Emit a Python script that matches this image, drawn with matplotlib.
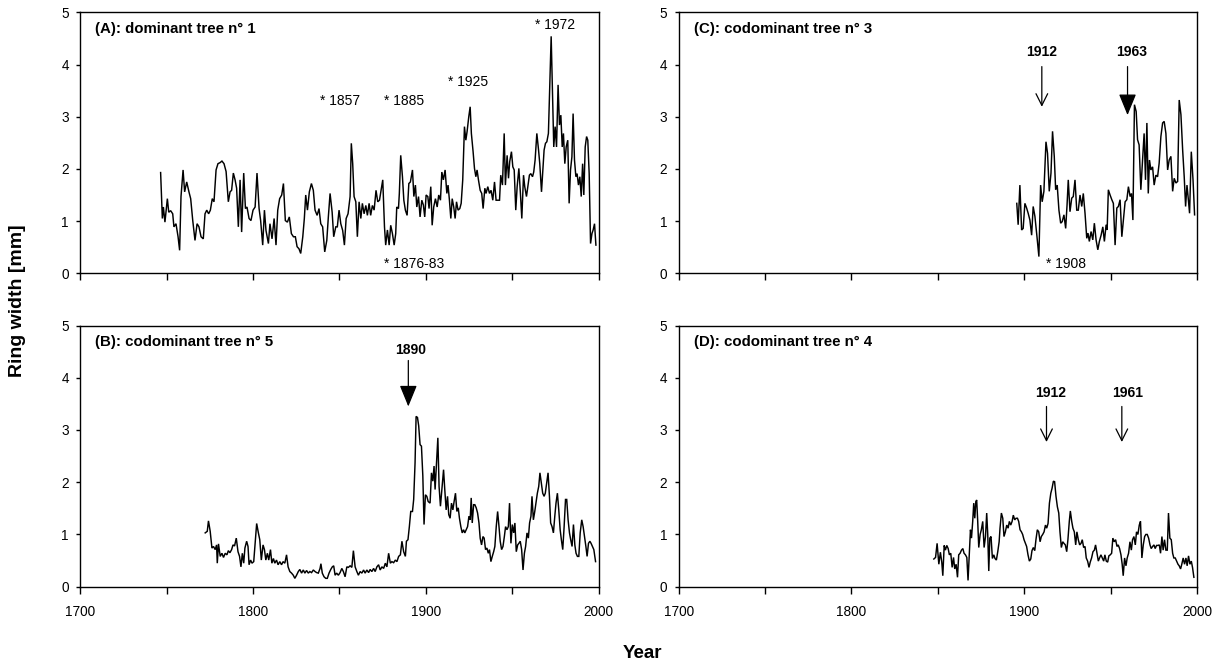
import matplotlib
matplotlib.use("Agg")
import matplotlib.pyplot as plt

plt.rcParams['font.family'] = ['Liberation Sans', 'DejaVu Sans']

# ---------------- data (digitised) ----------------
# (A) dominant tree n° 1
yearA = [1746.5, 1747.5, 1748.1, 1749.0, 1750.4, 1751.2, 1752.3, 1753.5, 1754.2, 1755.4,
         1756.6, 1757.5, 1758.3, 1759.5, 1760.4, 1761.6, 1762.9, 1763.9, 1765.1, 1766.4,
         1767.6, 1768.7, 1769.9, 1771.2, 1772.2, 1773.2, 1774.3, 1775.3, 1776.4, 1777.4,
         1778.6, 1779.7, 1780.9, 1782.0, 1783.2, 1784.4, 1785.7, 1786.7, 1787.6, 1788.6,
         1789.6, 1790.5, 1791.5, 1792.5, 1793.4, 1794.6, 1795.6, 1796.5, 1797.7, 1798.8,
         1800.0, 1801.2, 1802.3, 1803.5, 1804.4, 1805.6, 1806.6, 1807.5, 1808.9, 1809.8,
         1811.0, 1812.2, 1813.3, 1814.3, 1815.4, 1816.6, 1817.6, 1818.7, 1819.9, 1821.0,
         1822.2, 1823.4, 1824.5, 1825.5, 1826.6, 1827.6, 1828.8, 1829.7, 1830.5, 1831.5,
         1832.6, 1833.8, 1834.9, 1835.9, 1837.1, 1838.2, 1839.2, 1840.3, 1841.5, 1842.7,
         1843.6, 1844.6, 1845.8, 1846.7, 1847.9, 1848.8, 1849.8, 1850.8, 1851.9, 1852.9,
         1853.9, 1855.0, 1856.2, 1856.9, 1857.7, 1858.5, 1859.5, 1860.4, 1861.4, 1862.4,
         1863.3, 1864.3, 1865.3, 1866.2, 1867.2, 1868.1, 1869.1, 1870.1, 1871.2, 1872.2,
         1873.2,
         1875.1, 1876.1, 1876.8, 1877.8, 1878.8, 1879.7, 1880.7, 1881.7, 1882.6, 1883.2,
         1884.2, 1884.7, 1885.5, 1886.5, 1887.3, 1888.2, 1889.2, 1890.2, 1891.1, 1892.3,
         1893.1, 1894.0, 1894.8, 1895.8, 1896.7, 1897.7, 1898.6, 1899.4, 1900.2, 1901.2,
         1901.9, 1902.9, 1903.7, 1904.6, 1905.6, 1906.6, 1907.5, 1908.5, 1909.3, 1910.2,
         1911.2, 1912.2, 1912.9, 1913.7, 1914.5, 1915.3, 1916.2, 1917.0, 1917.8, 1918.7,
         1919.7, 1920.5, 1921.4, 1922.4, 1923.2, 1923.9, 1924.9, 1925.7, 1926.4, 1927.4,
         1928.2, 1929.0, 1929.7, 1930.5, 1931.5, 1932.4, 1933.2, 1934.2, 1934.9, 1935.9,
         1936.9, 1937.8, 1938.8, 1939.8, 1940.7, 1941.7, 1942.7, 1943.4, 1944.4, 1945.4,
         1946.1, 1947.1, 1947.9, 1948.6, 1949.6, 1950.4, 1951.2, 1952.1, 1952.9, 1953.9,
         1954.8, 1955.6, 1956.6, 1957.3, 1958.3, 1959.1, 1960.0, 1960.8, 1961.8, 1962.5,
         1963.3, 1964.3, 1965.3, 1966.0, 1967.0, 1967.8, 1968.5, 1969.3, 1970.1, 1971.0,
         1971.8, 1972.6, 1973.4, 1974.1, 1974.9, 1975.7, 1976.6, 1977.4, 1978.2, 1979.0,
         1979.7, 1980.5, 1981.3, 1982.2, 1983.0, 1983.8, 1984.6, 1985.3, 1986.1, 1986.9,
         1987.6, 1988.4, 1989.2, 1990.0, 1990.8, 1991.5, 1992.3, 1993.1, 1993.8, 1994.6,
         1995.4, 1996.2, 1996.9, 1997.7, 1998.5]
widthA = [1.93, 1.05, 1.27, 0.98, 1.43, 1.17, 1.20, 1.14, 0.89, 0.95,
          0.70, 0.44, 1.47, 1.98, 1.56, 1.75, 1.56, 1.43, 1.01, 0.63,
          0.95, 0.89, 0.70, 0.66, 1.14, 1.21, 1.14, 1.21, 1.43, 1.37,
          1.98, 2.10, 2.12, 2.15, 2.10, 1.95, 1.37, 1.56, 1.59, 1.92,
          1.79, 1.63, 0.89, 1.79, 0.79, 1.92, 1.24, 1.27, 1.05, 1.01,
          1.21, 1.27, 1.92, 1.24, 1.01, 0.54, 1.21, 0.82, 0.57, 0.95,
          0.66, 1.05, 0.54, 1.21, 1.43, 1.50, 1.72, 1.01, 0.98, 1.08,
          0.76, 0.70, 0.70, 0.51, 0.47, 0.38, 0.70, 1.05, 1.50, 1.21,
          1.56, 1.72, 1.59, 1.21, 1.11, 1.24, 0.95, 0.89, 0.41, 0.63,
          1.08, 1.53, 1.17, 0.70, 0.89, 0.89, 1.21, 0.95, 0.82, 0.54,
          1.05, 1.14, 1.47, 2.49, 2.10, 1.47, 1.37, 0.70, 1.37, 1.05,
          1.34, 1.14, 1.30, 1.11, 1.34, 1.11, 1.30, 1.21, 1.59, 1.37,
          1.40,
          1.79, 0.89, 0.54, 0.83, 0.54, 0.92, 0.76, 0.54, 0.76, 1.27,
          1.24, 1.53, 2.26, 1.85, 1.40, 1.21, 1.11, 1.72, 1.75, 1.98,
          1.47, 1.69, 1.27, 1.47, 1.08, 1.40, 1.31, 1.08, 1.50, 1.47,
          1.24, 1.66, 0.92, 1.27, 1.43, 1.27, 1.50, 1.40, 1.94, 1.79,
          1.98, 1.53, 1.69, 1.40, 1.05, 1.43, 1.27, 1.05, 1.37, 1.21,
          1.24, 1.34, 1.79, 2.81, 2.55, 2.71, 3.00, 3.19, 2.68, 2.33,
          2.01, 1.85, 1.98, 1.79, 1.59, 1.53, 1.24, 1.63, 1.53, 1.66,
          1.53, 1.59, 1.40, 1.75, 1.40, 1.40, 1.40, 1.88, 1.69, 2.68,
          1.69, 2.26, 1.82, 2.14, 2.33, 2.04, 1.98, 1.21, 1.66, 2.01,
          1.53, 1.05, 1.88, 1.66, 1.47, 1.66, 1.88, 1.91, 1.85, 1.94,
          2.17, 2.68, 2.36, 2.10, 1.56, 1.98, 2.36, 2.49, 2.52, 2.68,
          3.64, 4.54, 3.38, 2.42, 2.81, 2.42, 3.61, 2.84, 3.03, 2.42,
          2.68, 2.10, 2.42, 2.55, 1.34, 1.98, 2.23, 3.06, 2.17, 1.85,
          1.91, 1.69, 1.85, 1.47, 2.10, 1.50, 2.42, 2.62, 2.55, 1.91,
          0.57, 0.76, 0.83, 0.95, 0.54]

# (B) codominant tree n° 5
yearB = [1772.3, 1773.5, 1774.2, 1775.2, 1776.2, 1777.1, 1778.1, 1778.9, 1779.3, 1780.0,
         1781.0, 1782.0, 1782.9, 1783.9, 1784.9, 1785.7, 1786.6, 1787.6, 1788.4, 1789.3,
         1790.3, 1791.3, 1792.2, 1793.0, 1793.8, 1794.6, 1795.3, 1796.3, 1797.1, 1797.7,
         1798.6, 1799.4, 1800.4, 1801.4, 1802.1, 1803.1, 1803.9, 1804.8, 1805.8, 1806.6,
         1807.4, 1808.3, 1809.1, 1810.1, 1810.9, 1811.8, 1812.6, 1813.6, 1814.5, 1815.5,
         1816.5, 1817.4, 1818.4, 1819.4, 1820.3, 1821.3, 1822.3, 1823.3, 1824.2, 1825.2,
         1826.2, 1827.1, 1828.1, 1829.1, 1830.0, 1831.0, 1832.0, 1832.9, 1833.9, 1834.9,
         1835.9, 1836.8, 1837.8, 1838.8, 1839.3, 1840.1, 1841.1, 1842.1, 1843.0, 1844.0,
         1845.0, 1845.9, 1846.7, 1847.5, 1848.4, 1849.4, 1850.4, 1851.4, 1852.3, 1853.3,
         1854.3, 1855.2, 1856.2, 1857.2, 1858.1, 1859.1, 1860.1, 1861.0, 1862.0, 1863.0,
         1864.0, 1864.9, 1865.9, 1866.9, 1867.8, 1868.8, 1869.8, 1870.7, 1871.7, 1872.7,
         1873.6, 1874.6, 1875.6, 1876.6, 1877.5, 1878.5, 1879.5, 1880.4, 1881.4, 1882.4,
         1883.3, 1884.3, 1885.3, 1886.2, 1887.2, 1888.2,
         1888.8, 1889.7, 1890.5, 1891.3, 1892.3, 1893.0, 1893.8, 1894.4, 1895.2, 1895.9,
         1896.7, 1897.5, 1898.3, 1899.0, 1899.8, 1900.6, 1901.4, 1902.5, 1903.3, 1904.1,
         1904.8, 1905.4, 1906.2, 1907.0, 1907.7, 1908.5, 1909.3, 1910.3, 1911.0, 1911.8,
         1912.6, 1913.3, 1914.1, 1914.9, 1915.7, 1916.4, 1917.2, 1918.0, 1918.8, 1919.5,
         1920.3, 1921.1, 1921.9, 1922.6, 1923.4, 1924.2, 1925.0, 1925.7, 1926.3, 1926.9,
         1927.7, 1928.4, 1929.2, 1930.0, 1930.8, 1931.5, 1932.3, 1933.1, 1933.8, 1934.6,
         1935.4, 1936.2, 1936.9, 1937.7, 1938.5, 1939.3, 1940.0, 1940.8, 1941.6, 1942.4,
         1943.1, 1943.9, 1944.7, 1945.5, 1946.2, 1947.0, 1947.8, 1948.5, 1949.3, 1950.1,
         1950.9, 1951.6, 1952.4, 1953.2, 1953.9, 1954.7, 1955.5, 1956.3, 1957.1, 1957.8,
         1958.6, 1959.4, 1960.1, 1960.9, 1961.5, 1962.3, 1963.1, 1963.8, 1964.6, 1965.4,
         1966.1, 1966.9, 1967.7, 1968.5, 1969.2, 1970.0, 1970.8, 1971.6, 1972.3, 1973.1,
         1973.9, 1974.7, 1975.4, 1976.2, 1977.0, 1977.8, 1978.5, 1979.3, 1980.1, 1980.9,
         1981.6, 1982.4, 1983.2, 1983.9, 1984.7, 1985.5, 1986.3, 1987.0, 1987.8, 1988.6,
         1989.4, 1990.3, 1991.1, 1991.9, 1992.7, 1993.4, 1994.2, 1995.0, 1995.7, 1996.5,
         1997.3, 1998.3]
widthB = [1.03, 1.06, 1.26, 1.06, 0.74, 0.77, 0.71, 0.80, 0.45, 0.82,
          0.58, 0.64, 0.56, 0.64, 0.61, 0.69, 0.65, 0.71, 0.80, 0.78,
          0.93, 0.67, 0.58, 0.38, 0.64, 0.45, 0.74, 0.87, 0.77, 0.42,
          0.51, 0.45, 0.48, 0.90, 1.21, 1.03, 0.90, 0.51, 0.80, 0.71,
          0.51, 0.64, 0.51, 0.71, 0.45, 0.54, 0.45, 0.51, 0.42, 0.48,
          0.42, 0.48, 0.45, 0.61, 0.38, 0.29, 0.26, 0.22, 0.16, 0.22,
          0.29, 0.33, 0.26, 0.32, 0.26, 0.31, 0.26, 0.29, 0.27, 0.32,
          0.29, 0.27, 0.26, 0.35, 0.44, 0.26, 0.19, 0.16, 0.16, 0.26,
          0.33, 0.38, 0.40, 0.22, 0.26, 0.22, 0.27, 0.35, 0.29, 0.19,
          0.38, 0.37, 0.40, 0.37, 0.69, 0.38, 0.29, 0.22, 0.29, 0.26,
          0.32, 0.26, 0.32, 0.27, 0.33, 0.29, 0.35, 0.29, 0.38, 0.42,
          0.32, 0.38, 0.35, 0.45, 0.38, 0.64, 0.45, 0.48, 0.46, 0.51,
          0.48, 0.58, 0.61, 0.87, 0.67, 0.58,
          0.87, 0.90, 1.15, 1.44, 1.44, 1.67, 2.37, 3.26, 3.24, 3.08,
          2.72, 2.69, 2.12, 1.19, 1.76, 1.73, 1.63, 1.60, 2.18, 2.02,
          2.31, 1.86, 2.37, 2.85, 1.92, 1.54, 1.86, 2.24, 1.86, 1.47,
          1.73, 1.38, 1.31, 1.60, 1.47, 1.63, 1.79, 1.44, 1.51, 1.31,
          1.15, 1.03, 1.09, 1.03, 1.09, 1.15, 1.35, 1.28, 1.70, 1.22,
          1.57, 1.57, 1.51, 1.41, 1.22, 0.93, 0.80, 0.96, 0.93, 0.71,
          0.74, 0.64, 0.71, 0.48, 0.58, 0.67, 0.77, 1.15, 1.44, 1.15,
          0.87, 0.71, 0.77, 0.96, 1.15, 1.09, 1.15, 1.60, 0.83, 1.19,
          1.03, 1.22, 0.67, 0.80, 0.83, 0.87, 0.71, 0.32, 0.64, 0.77,
          1.03, 0.93, 1.22, 1.35, 1.73, 1.28, 1.44, 1.60, 1.79, 1.92,
          2.18, 1.99, 1.79, 1.73, 1.79, 1.99, 2.18, 1.73, 1.22, 1.15,
          1.03, 1.35, 1.60, 1.79, 1.47, 1.09, 0.90, 0.71, 1.15, 1.67,
          1.67, 1.28, 1.03, 0.90, 0.77, 1.19, 0.80, 0.64, 0.58, 0.58,
          1.03, 1.28, 1.15, 0.96, 0.77, 0.58, 0.83, 0.87, 0.83, 0.77,
          0.71, 0.48]

# (C) codominant tree n° 3
yearC = [1895.7, 1896.5, 1897.5, 1898.5, 1899.4, 1900.4, 1901.4, 1902.3, 1903.3, 1904.3,
         1905.2, 1906.2, 1907.4, 1908.5, 1909.5, 1910.4, 1911.4, 1912.6, 1913.5, 1914.5,
         1915.5, 1916.4, 1917.4, 1918.2, 1919.1, 1920.1, 1921.1, 1922.0, 1923.0, 1924.0,
         1924.8, 1925.5, 1926.5, 1927.5, 1928.4, 1929.4, 1930.4, 1931.3, 1932.3, 1933.3,
         1934.2, 1935.2, 1936.2, 1936.9, 1937.7, 1938.7, 1939.7, 1940.6, 1941.6, 1942.6,
         1943.5, 1944.5, 1945.5, 1946.4, 1947.4, 1948.0, 1948.7, 1949.7, 1950.7, 1951.6,
         1952.6, 1953.6, 1954.5, 1955.5, 1956.5, 1957.4, 1958.4, 1959.4, 1960.3, 1961.3,
         1962.1, 1962.9, 1963.8, 1964.8, 1965.6, 1966.5, 1967.5, 1968.5, 1969.4, 1970.2,
         1971.0, 1971.8, 1972.5, 1973.3, 1974.3, 1975.2, 1976.2, 1977.2, 1978.1, 1979.1,
         1980.1, 1981.0, 1982.0, 1983.0, 1983.9, 1984.9, 1985.9, 1986.8, 1987.8, 1988.8,
         1989.7, 1990.7, 1991.7, 1992.6, 1993.4, 1994.2, 1995.0, 1995.7, 1996.7, 1997.7,
         1998.6]
widthC = [1.34, 0.93, 1.69, 0.83, 0.86, 1.34, 1.25, 1.15, 1.02, 0.73,
          1.28, 1.09, 0.70, 0.32, 1.69, 1.37, 1.57, 2.52, 2.30, 1.57,
          1.92, 2.72, 2.24, 1.60, 1.69, 1.21, 0.96, 0.99, 1.12, 0.86,
          1.31, 1.79, 1.18, 1.44, 1.47, 1.79, 1.21, 1.21, 1.50, 1.28,
          1.53, 1.15, 0.67, 0.77, 0.61, 0.80, 0.64, 0.96, 0.64, 0.45,
          0.61, 0.73, 0.89, 0.61, 0.93, 0.83, 1.60, 1.50, 1.41, 1.34,
          0.54, 1.25, 1.28, 1.41, 0.70, 1.02, 1.37, 1.41, 1.66, 1.47,
          1.53, 1.02, 3.23, 3.10, 2.56, 2.46, 1.60, 2.17, 2.68, 1.79,
          2.88, 1.53, 2.17, 1.98, 2.04, 1.69, 1.88, 1.85, 2.11, 2.62,
          2.88, 2.91, 2.68, 1.98, 2.17, 2.24, 1.57, 1.82, 1.73, 1.76,
          3.32, 3.04, 2.36, 1.85, 1.28, 1.69, 1.41, 1.15, 2.33, 1.79,
          1.12]

# (D) codominant tree n° 4
yearD = [1847.7, 1848.7, 1849.6, 1850.6, 1851.5, 1852.3, 1852.9, 1853.7, 1854.4, 1855.2,
         1856.0, 1856.7, 1857.5, 1858.3, 1859.1, 1859.8, 1860.6, 1861.4, 1862.1, 1862.9,
         1863.7, 1864.5, 1865.2, 1866.0, 1866.8, 1867.5, 1868.3, 1868.9, 1869.5, 1870.2,
         1870.8, 1871.4, 1872.0, 1872.5, 1873.1, 1873.7, 1874.5, 1875.2, 1876.0, 1876.8,
         1877.6, 1878.3, 1878.9, 1879.5, 1880.1, 1880.8, 1881.6, 1882.4, 1883.1, 1883.9,
         1884.7, 1885.5, 1886.0, 1886.8, 1887.6, 1888.3, 1889.1, 1889.9, 1890.7, 1891.4,
         1892.2, 1893.0, 1893.7, 1894.5, 1895.3, 1896.1, 1896.8, 1897.6, 1898.4, 1899.1,
         1899.9, 1900.7, 1901.4, 1902.2, 1903.0, 1903.8, 1904.5, 1905.3, 1906.1, 1906.8,
         1907.6, 1908.4, 1909.2, 1909.9, 1910.7, 1911.5, 1912.3, 1913.0, 1913.8, 1914.6,
         1915.4, 1916.1, 1916.9, 1917.6, 1918.4, 1919.2, 1920.0, 1920.7, 1921.5, 1922.3,
         1923.0, 1923.8, 1924.6, 1925.3, 1926.1, 1926.7, 1927.5, 1928.2, 1929.0, 1929.8,
         1930.5, 1931.3, 1932.1, 1932.9, 1933.6, 1934.4, 1935.2, 1935.9, 1936.7, 1937.5,
         1938.2, 1939.0, 1939.8, 1940.6, 1941.3, 1942.1, 1942.9, 1943.6, 1944.4, 1945.2,
         1946.0, 1946.7, 1947.5, 1948.3, 1949.0, 1949.8, 1950.6, 1951.3, 1952.1, 1952.9,
         1953.7, 1954.4, 1955.2, 1956.0, 1956.7, 1957.3, 1958.1, 1958.9, 1959.6, 1960.4,
         1961.2, 1962.0, 1962.7, 1963.5, 1964.3, 1965.0, 1965.8, 1966.6, 1967.3, 1968.1,
         1968.9, 1969.7, 1970.4, 1971.2, 1972.0, 1972.8, 1973.5, 1974.3, 1975.1, 1975.8,
         1976.6, 1977.4, 1978.2, 1978.9, 1979.7, 1980.4, 1981.2, 1982.0, 1982.8, 1983.5,
         1984.3, 1985.1, 1985.9, 1986.6, 1987.4, 1988.2, 1989.0, 1989.7, 1990.5, 1991.2,
         1992.0, 1992.8, 1993.6, 1994.3, 1995.1, 1995.9, 1996.7, 1997.4, 1998.2]
widthD = [0.53, 0.56, 0.83, 0.43, 0.66, 0.47, 0.21, 0.79, 0.70, 0.79,
          0.73, 0.61, 0.64, 0.37, 0.56, 0.34, 0.43, 0.18, 0.61, 0.64,
          0.70, 0.73, 0.64, 0.61, 0.56, 0.12, 0.67, 1.09, 0.93, 1.25,
          1.60, 1.31, 1.63, 1.66, 1.25, 0.75, 1.00, 1.09, 1.25, 0.75,
          0.96, 1.41, 1.00, 0.30, 0.93, 0.96, 0.54, 0.61, 0.54, 0.51,
          0.67, 0.86, 1.12, 1.41, 1.31, 0.96, 1.05, 1.18, 1.12, 1.25,
          1.18, 1.25, 1.37, 1.28, 1.31, 1.31, 1.25, 1.09, 1.05, 1.00,
          0.90, 0.83, 0.77, 0.61, 0.49, 0.53, 0.69, 0.75, 0.69, 0.90,
          1.09, 1.05, 0.86, 0.96, 1.00, 1.05, 1.18, 1.12, 1.21, 1.60,
          1.79, 1.88, 2.02, 2.01, 1.73, 1.53, 1.41, 1.05, 0.75, 0.86,
          0.83, 0.80, 0.67, 0.90, 1.25, 1.45, 1.25, 1.12, 1.05, 0.80,
          1.05, 0.90, 0.80, 0.83, 0.90, 0.75, 0.77, 0.55, 0.49, 0.37,
          0.47, 0.55, 0.67, 0.70, 0.80, 0.64, 0.49, 0.55, 0.61, 0.55,
          0.49, 0.61, 0.49, 0.47, 0.59, 0.61, 0.64, 0.93, 0.86, 0.90,
          0.77, 0.80, 0.73, 0.61, 0.43, 0.21, 0.55, 0.40, 0.55, 0.64,
          0.86, 0.70, 0.90, 0.96, 0.80, 1.05, 1.00, 1.18, 1.25, 0.55,
          0.80, 0.96, 1.00, 1.00, 0.93, 0.80, 0.73, 0.77, 0.80, 0.73,
          0.79, 0.79, 0.80, 0.64, 0.96, 0.70, 0.90, 0.70, 0.70, 1.41,
          0.93, 0.90, 0.64, 0.55, 0.55, 0.49, 0.43, 0.40, 0.34, 0.43,
          0.55, 0.43, 0.55, 0.40, 0.59, 0.43, 0.49, 0.37, 0.18]

panel_titles = ["(A): dominant tree n\u00b0 1", "(B): codominant tree n\u00b0 5",
                "(C): codominant tree n\u00b0 3", "(D): codominant tree n\u00b0 4"]

# asterisk notes in (A) and (C): (text, left year, value)
notesA = [("* 1857", 1838.9, 3.30), ("* 1885", 1875.9, 3.30), ("* 1925", 1912.7, 3.67),
          ("* 1972", 1963.3, 4.76), ("* 1876-83", 1875.9, 0.17)]
notesC = [("* 1908", 1912.7, 0.17)]

# arrows: (label, label year, label value, arrow year, tail value, head value, filled)
arrowsB = [("1890", 1891.0, 4.54, 1889.9, 4.33, 3.45, True)]
arrowsC = [("1912", 1910.2, 4.23, 1910.2, 3.96, 3.19, False),
           ("1963", 1962.4, 4.23, 1959.8, 3.96, 3.03, True)]
arrowsD = [("1912", 1915.0, 3.71, 1912.9, 3.45, 2.77, False),
           ("1961", 1960.0, 3.71, 1956.5, 3.45, 2.77, False)]

xticks_major = [1700, 1800, 1900, 2000]
xticks_minor = [1750, 1850, 1950]
yticks = [0, 1, 2, 3, 4, 5]

# ---------------- figure ----------------
W, H = 1224, 663
fig = plt.figure(figsize=(W / 100, H / 100), dpi=100)

def frac(x0, x1, ytop, ybot):
    return [x0 / W, 1 - ybot / H, (x1 - x0) / W, (ybot - ytop) / H]

axA = fig.add_axes(frac(80.3, 598.5, 12.3, 273.3))
axB = fig.add_axes(frac(80.3, 598.5, 325.5, 586.7))
axC = fig.add_axes(frac(678.6, 1197.0, 12.3, 273.3))
axD = fig.add_axes(frac(678.6, 1197.0, 325.5, 586.7))

tick_fs = 9.8

for ax, yrs, vals, title, bottom in [(axA, yearA, widthA, panel_titles[0], False),
                                     (axB, yearB, widthB, panel_titles[1], True),
                                     (axC, yearC, widthC, panel_titles[2], False),
                                     (axD, yearD, widthD, panel_titles[3], True)]:
    ax.plot(yrs, vals, color='black', lw=1.05, solid_joinstyle='miter')
    ax.set_xlim(1700, 2000)
    ax.set_ylim(0, 5)
    ax.set_xticks(xticks_major)
    ax.set_xticks(xticks_minor, minor=True)
    ax.set_yticks(yticks)
    ax.set_yticklabels([str(v) for v in yticks], fontsize=tick_fs)
    if bottom:
        ax.set_xticklabels([str(v) for v in xticks_major], fontsize=tick_fs)
    else:
        ax.set_xticklabels([])
    ax.tick_params(axis='x', which='both', direction='out', length=5, width=1.0, pad=8)
    ax.tick_params(axis='y', which='both', direction='out', length=3.2, width=1.0, pad=5)
    for s in ax.spines.values():
        s.set_linewidth(1.0)
    ax.text(0.029, 0.935, title, transform=ax.transAxes, fontsize=10.8,
            fontweight='bold', ha='left', va='center')

for ax, notes in [(axA, notesA), (axC, notesC)]:
    for txt, yr, v in notes:
        ax.text(yr, v, txt, fontsize=10, ha='left', va='center')

for ax, arrs in [(axB, arrowsB), (axC, arrowsC), (axD, arrowsD)]:
    for lab, lx, ly, ax_yr, tail, head, filled in arrs:
        ax.text(lx, ly, lab, fontsize=10, fontweight='bold', ha='center', va='center')
        if filled:
            props = dict(arrowstyle='-|>,head_length=1.1,head_width=0.45', lw=0.9,
                         color='black', shrinkA=0, shrinkB=0, mutation_scale=12)
        else:
            props = dict(arrowstyle='->,head_length=0.7,head_width=0.35', lw=0.9,
                         color='black', shrinkA=0, shrinkB=0, mutation_scale=12)
        ax.annotate('', xy=(ax_yr, head), xytext=(ax_yr, tail), arrowprops=props)

fig.text(642 / W, 1 - 653 / H, "Year", fontsize=13.5, fontweight='bold',
         ha='center', va='center')
fig.text(17.5 / W, 1 - 301 / H, "Ring width [mm]", fontsize=14, fontweight='bold',
         ha='center', va='center', rotation=90)

fig.savefig("out.png", dpi=100)
